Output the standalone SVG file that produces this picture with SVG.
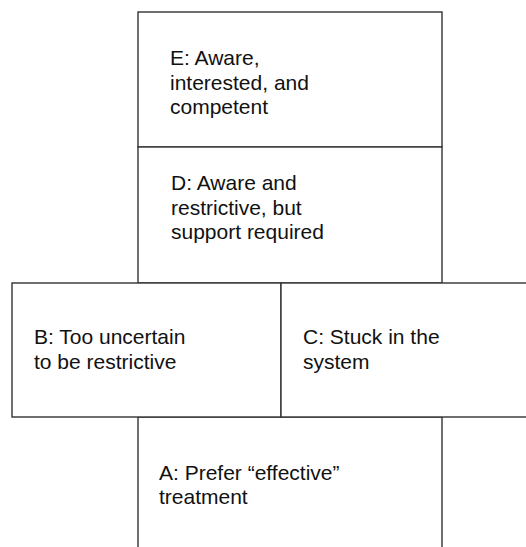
<svg xmlns="http://www.w3.org/2000/svg" width="526" height="547" viewBox="0 0 526 547">
<style>
.box{fill:#ffffff;stroke:#333333;stroke-width:1.4}
.t{font-family:"Liberation Sans",Arial,sans-serif;font-size:21px;fill:#111111}
</style>
<rect x="0" y="0" width="526" height="547" fill="#ffffff"/>
<g id="E">
<rect class="box" x="138" y="12" width="304" height="135"/>
<text class="t" x="170" y="65">E: Aware,</text>
<text class="t" x="170" y="90">interested, and</text>
<text class="t" x="170" y="114">competent</text>
</g>
<g id="D">
<rect class="box" x="138" y="147" width="304" height="136"/>
<text class="t" x="171" y="190">D: Aware and</text>
<text class="t" x="171" y="215">restrictive, but</text>
<text class="t" x="171" y="239">support required</text>
</g>
<g id="A">
<rect class="box" x="138" y="417" width="304" height="140"/>
<text class="t" x="159" y="480">A: Prefer “effective”</text>
<text class="t" x="159" y="504">treatment</text>
</g>
<g id="B">
<rect class="box" x="12" y="283" width="269" height="134"/>
<text class="t" x="34" y="344">B: Too uncertain</text>
<text class="t" x="34" y="369">to be restrictive</text>
</g>
<g id="C">
<rect class="box" x="281" y="283" width="260" height="134"/>
<text class="t" x="303" y="344">C: Stuck in the</text>
<text class="t" x="303" y="369">system</text>
</g>
</svg>
